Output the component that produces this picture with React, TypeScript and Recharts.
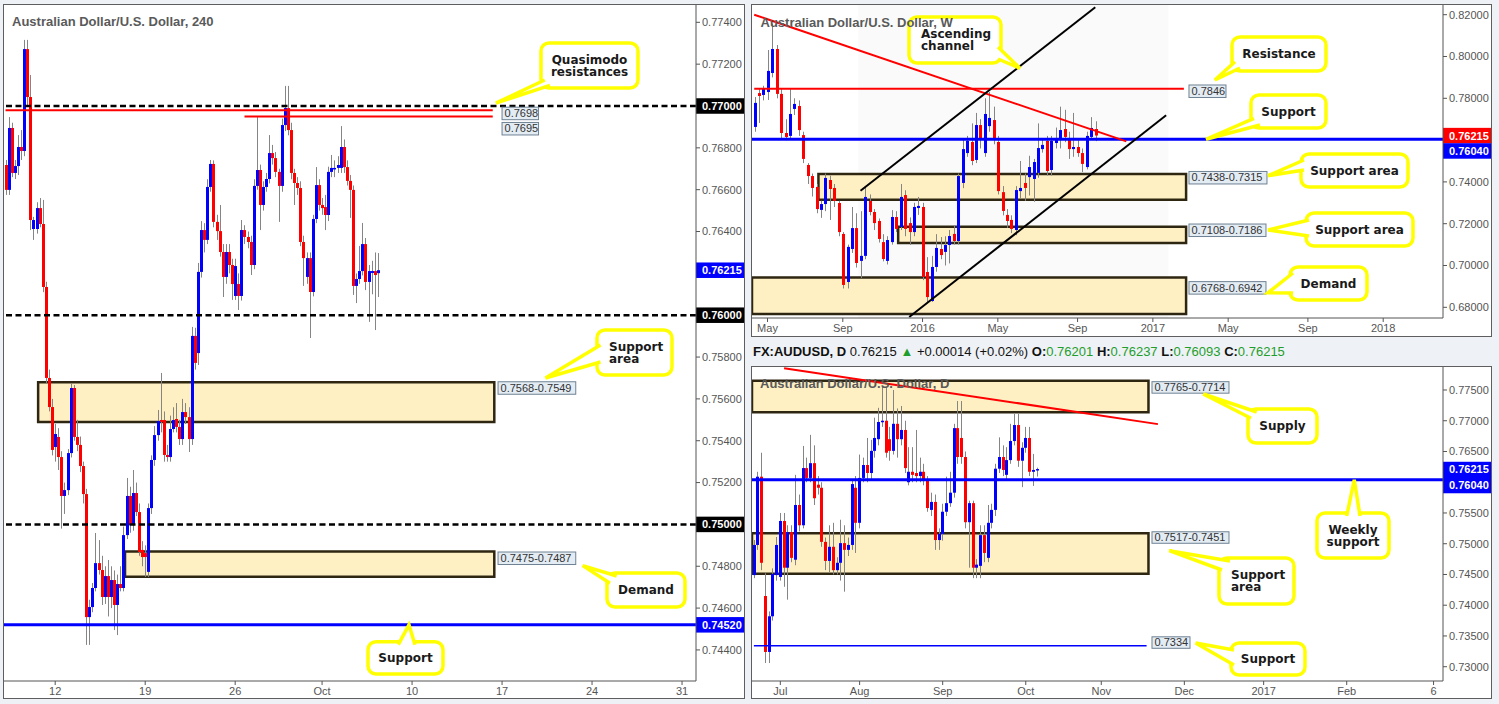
import React from 'react';
import {
  ComposedChart,
  Bar,
  XAxis,
  YAxis,
  ReferenceLine,
  ReferenceArea,
  ReferenceDot,
} from 'recharts';

type OHLC = [number, number, number, number];

const FONT = '"Liberation Sans", Arial, sans-serif';
const NOTE_FONT = '"DejaVu Sans", Verdana, sans-serif';
const BLUE = '#0000ff';
const RED = '#ff0000';
const AXIS = '#555';
const ZONE_FILL = '#fff0c4';
const ZONE_STROKE = '#2e2610';

// ---- 4H candles (open, high, low, close) ----
const H4_OHLC: OHLC[] = [
  [0.76718, 0.76742, 0.76575, 0.76599], [0.76599, 0.76947, 0.76575, 0.76895], [0.76895, 0.7692, 0.7666, 0.7668],
  [0.7668, 0.76742, 0.76651, 0.76713], [0.76713, 0.76861, 0.7667, 0.76804], [0.76804, 0.76885, 0.76742, 0.76785],
  [0.76785, 0.77316, 0.7676, 0.77272], [0.77272, 0.77316, 0.77, 0.77043], [0.77043, 0.77148, 0.76407, 0.76455],
  [0.76412, 0.7647, 0.7636, 0.76455], [0.76412, 0.7654, 0.7639, 0.76512], [0.76512, 0.7656, 0.7642, 0.76436],
  [0.76436, 0.76551, 0.7611, 0.76135], [0.76135, 0.7616, 0.75676, 0.757], [0.757, 0.7574, 0.7554, 0.75561],
  [0.75561, 0.756, 0.7533, 0.75356], [0.7537, 0.7548, 0.753, 0.75432], [0.75418, 0.7546, 0.7526, 0.75322],
  [0.75322, 0.7535, 0.7498, 0.75136], [0.75136, 0.752, 0.7505, 0.75164], [0.75164, 0.7536, 0.7514, 0.75341],
  [0.75341, 0.75676, 0.7532, 0.75652], [0.75652, 0.75666, 0.754, 0.75418], [0.75418, 0.755, 0.7535, 0.7538],
  [0.7538, 0.7542, 0.7525, 0.75279], [0.75279, 0.753, 0.751, 0.75145], [0.75145, 0.7517, 0.74424, 0.74557],
  [0.74557, 0.7464, 0.74424, 0.74605], [0.74605, 0.7472, 0.7458, 0.74696], [0.74696, 0.74959, 0.7468, 0.74815],
  [0.74815, 0.74925, 0.7476, 0.74782], [0.74782, 0.7485, 0.74615, 0.74653], [0.74653, 0.748, 0.7462, 0.74753],
  [0.74753, 0.7483, 0.7456, 0.74653], [0.74653, 0.748, 0.746, 0.74734], [0.74734, 0.7478, 0.74495, 0.74615],
  [0.74615, 0.7476, 0.74471, 0.74715], [0.74715, 0.748, 0.7468, 0.74696], [0.74696, 0.7499, 0.7468, 0.74949],
  [0.74949, 0.75222, 0.7493, 0.75136], [0.75136, 0.7518, 0.7496, 0.74997], [0.74997, 0.7526, 0.7497, 0.7515],
  [0.7515, 0.752, 0.7504, 0.75059], [0.75059, 0.751, 0.7485, 0.74868], [0.74878, 0.7492, 0.748, 0.74844],
  [0.74863, 0.749, 0.74749, 0.74844], [0.74773, 0.751, 0.74749, 0.75078], [0.75078, 0.7533, 0.7505, 0.75308],
  [0.75308, 0.7547, 0.7528, 0.75427], [0.75427, 0.75547, 0.754, 0.75494], [0.75499, 0.75724, 0.7544, 0.7549],
  [0.75499, 0.7554, 0.753, 0.75332], [0.75332, 0.7538, 0.753, 0.75322], [0.75322, 0.7552, 0.753, 0.75456],
  [0.75456, 0.7556, 0.7544, 0.75499], [0.75504, 0.7558, 0.7544, 0.75466], [0.75466, 0.755, 0.7538, 0.75408],
  [0.75408, 0.756, 0.7538, 0.75537], [0.75537, 0.7558, 0.7548, 0.75513], [0.75513, 0.7556, 0.75346, 0.75408],
  [0.75408, 0.75944, 0.7538, 0.75901], [0.75901, 0.7594, 0.7574, 0.75772], [0.75819, 0.7625, 0.75762, 0.76207],
  [0.76207, 0.7645, 0.7618, 0.76407], [0.76407, 0.7644, 0.763, 0.7636], [0.7636, 0.7665, 0.7634, 0.76613],
  [0.76613, 0.76742, 0.7659, 0.76723], [0.76723, 0.7674, 0.7642, 0.76446], [0.76446, 0.7648, 0.7636, 0.76402],
  [0.76402, 0.76527, 0.7628, 0.76302], [0.76302, 0.7634, 0.76087, 0.76183], [0.76183, 0.7634, 0.7615, 0.76302],
  [0.76302, 0.7634, 0.762, 0.7624], [0.7624, 0.7627, 0.76073, 0.76149], [0.76092, 0.7627, 0.76073, 0.76235],
  [0.76149, 0.762, 0.76025, 0.76092], [0.76092, 0.76455, 0.7607, 0.76407], [0.76407, 0.7643, 0.7634, 0.76374],
  [0.76374, 0.764, 0.7632, 0.7635], [0.7635, 0.7638, 0.76192, 0.7624], [0.7624, 0.7665, 0.7622, 0.76618],
  [0.76618, 0.76947, 0.766, 0.76694], [0.76694, 0.7672, 0.76407, 0.76527], [0.76527, 0.7664, 0.765, 0.76613],
  [0.76613, 0.7668, 0.7659, 0.76651], [0.76651, 0.76861, 0.7663, 0.76775], [0.76775, 0.76814, 0.7672, 0.76751],
  [0.76751, 0.7678, 0.7666, 0.76685], [0.76685, 0.767, 0.76446, 0.76618], [0.76618, 0.7694, 0.7659, 0.76909],
  [0.76909, 0.77096, 0.7688, 0.7699], [0.7699, 0.77096, 0.7686, 0.76885], [0.76885, 0.7692, 0.7665, 0.7668],
  [0.7668, 0.767, 0.76527, 0.76632], [0.76632, 0.7666, 0.76575, 0.76608], [0.76608, 0.7664, 0.7633, 0.7635],
  [0.7635, 0.7638, 0.7614, 0.76273], [0.76183, 0.763, 0.7615, 0.76273], [0.76273, 0.763, 0.75891, 0.76111],
  [0.76111, 0.7648, 0.7609, 0.7646], [0.7646, 0.76708, 0.7644, 0.76622], [0.76622, 0.7665, 0.765, 0.76527],
  [0.76527, 0.7656, 0.7648, 0.76512], [0.76517, 0.76575, 0.76407, 0.76479], [0.76479, 0.7671, 0.7645, 0.76685],
  [0.76685, 0.76766, 0.7666, 0.76704], [0.76699, 0.7674, 0.7666, 0.76704], [0.76704, 0.7676, 0.7668, 0.76718],
  [0.76704, 0.76904, 0.7668, 0.76804], [0.76804, 0.7684, 0.7668, 0.76708], [0.76708, 0.7674, 0.7662, 0.76642],
  [0.76642, 0.7667, 0.76465, 0.76599], [0.76599, 0.7662, 0.76097, 0.7614], [0.7614, 0.762, 0.76058, 0.76173],
  [0.76173, 0.76331, 0.7615, 0.76211], [0.76211, 0.76441, 0.7619, 0.7634], [0.7634, 0.76369, 0.7612, 0.76159],
  [0.76159, 0.7624, 0.75968, 0.76211], [0.76202, 0.7626, 0.761, 0.76211], [0.76211, 0.763, 0.75929, 0.76192],
  [0.76201, 0.76297, 0.76087, 0.76215],
];

// ---- weekly candles ----
const W1_OHLC: OHLC[] = [
  [0.7663, 0.7806, 0.764, 0.7778], [0.7825, 0.7849, 0.7682, 0.7811], [0.7816, 0.786, 0.779, 0.7849],
  [0.783, 0.8031, 0.7792, 0.7931], [0.7921, 0.8156, 0.79, 0.8036], [0.8036, 0.8055, 0.78, 0.7821],
  [0.7821, 0.7849, 0.761, 0.7634], [0.7634, 0.77, 0.76, 0.7615], [0.762, 0.7845, 0.7605, 0.7725],
  [0.7749, 0.78, 0.772, 0.7773], [0.7763, 0.779, 0.762, 0.7648], [0.7624, 0.764, 0.749, 0.751],
  [0.7481, 0.749, 0.739, 0.7428], [0.7428, 0.744, 0.733, 0.7371], [0.7376, 0.739, 0.725, 0.727],
  [0.7266, 0.731, 0.7228, 0.7294], [0.7294, 0.744, 0.726, 0.7419], [0.7409, 0.743, 0.7218, 0.7366],
  [0.7371, 0.739, 0.728, 0.7309], [0.7299, 0.731, 0.714, 0.716], [0.7151, 0.716, 0.689, 0.6907],
  [0.6921, 0.71, 0.689, 0.7089], [0.7079, 0.728, 0.706, 0.7179], [0.7179, 0.725, 0.699, 0.7012],
  [0.7022, 0.726, 0.694, 0.7046], [0.7046, 0.738, 0.703, 0.7328], [0.7309, 0.734, 0.724, 0.7256],
  [0.7256, 0.727, 0.717, 0.7203], [0.7213, 0.7225, 0.711, 0.7127], [0.7112, 0.715, 0.702, 0.7031],
  [0.7022, 0.714, 0.7005, 0.7122], [0.7112, 0.7265, 0.71, 0.7232], [0.7232, 0.726, 0.716, 0.7175],
  [0.7184, 0.739, 0.717, 0.7328], [0.7337, 0.736, 0.714, 0.7175], [0.7203, 0.723, 0.7098, 0.716],
  [0.716, 0.73, 0.714, 0.728], [0.7275, 0.7328, 0.7242, 0.7285], [0.728, 0.73, 0.693, 0.6945],
  [0.6969, 0.704, 0.6825, 0.6849], [0.683, 0.7046, 0.6826, 0.6993], [0.6993, 0.715, 0.697, 0.7084],
  [0.7079, 0.7136, 0.703, 0.705], [0.7065, 0.714, 0.7, 0.7098], [0.7098, 0.717, 0.701, 0.7141],
  [0.7151, 0.719, 0.71, 0.7117], [0.7117, 0.744, 0.71, 0.7428], [0.7395, 0.761, 0.737, 0.7557],
  [0.7538, 0.762, 0.752, 0.7596], [0.7591, 0.768, 0.748, 0.75], [0.7505, 0.773, 0.749, 0.7672],
  [0.7672, 0.77, 0.756, 0.7605], [0.7538, 0.78, 0.752, 0.7725], [0.7667, 0.783, 0.764, 0.7706],
  [0.7696, 0.776, 0.758, 0.76], [0.7591, 0.762, 0.734, 0.7356], [0.7351, 0.738, 0.724, 0.7261],
  [0.7242, 0.727, 0.718, 0.7213], [0.7218, 0.724, 0.7155, 0.7175], [0.717, 0.738, 0.7145, 0.7361],
  [0.7356, 0.75, 0.732, 0.7371], [0.7395, 0.744, 0.7309, 0.7371], [0.7423, 0.7525, 0.7335, 0.7471],
  [0.7414, 0.751, 0.7305, 0.7495], [0.7443, 0.768, 0.742, 0.7562], [0.7557, 0.761, 0.754, 0.7577],
  [0.7596, 0.762, 0.743, 0.7452], [0.7457, 0.762, 0.743, 0.7596], [0.7586, 0.766, 0.756, 0.761],
  [0.761, 0.776, 0.756, 0.7648], [0.7653, 0.7745, 0.759, 0.7615], [0.761, 0.764, 0.751, 0.7557],
  [0.7557, 0.773, 0.752, 0.7567], [0.7567, 0.76, 0.752, 0.7538], [0.7538, 0.756, 0.7447, 0.7486],
  [0.7471, 0.764, 0.746, 0.762], [0.7615, 0.771, 0.76, 0.7658], [0.7653, 0.769, 0.7595, 0.7622],
];

// ---- daily candles ----
const D1_OHLC: OHLC[] = [
  [0.7449, 0.7506, 0.7444, 0.7498], [0.7498, 0.7617, 0.749, 0.7609], [0.7609, 0.7648, 0.7457, 0.7469],
  [0.7415, 0.7452, 0.7306, 0.7324], [0.7324, 0.739, 0.7306, 0.7382], [0.7382, 0.746, 0.7375, 0.7451],
  [0.7449, 0.7511, 0.744, 0.7498], [0.7446, 0.755, 0.744, 0.7537], [0.7537, 0.755, 0.743, 0.7461],
  [0.7461, 0.753, 0.7409, 0.7519], [0.7519, 0.753, 0.747, 0.7477], [0.7474, 0.7612, 0.7465, 0.7563],
  [0.7563, 0.758, 0.752, 0.753], [0.753, 0.7659, 0.7525, 0.7623], [0.7623, 0.764, 0.76, 0.7607],
  [0.7607, 0.7677, 0.76, 0.7631], [0.7631, 0.766, 0.7563, 0.7574], [0.7596, 0.761, 0.758, 0.7591],
  [0.7591, 0.76, 0.7495, 0.7503], [0.7503, 0.751, 0.7457, 0.7472], [0.7472, 0.753, 0.7454, 0.7495],
  [0.7495, 0.7534, 0.745, 0.7457], [0.7457, 0.7478, 0.745, 0.7469], [0.7469, 0.7539, 0.744, 0.7501],
  [0.7501, 0.753, 0.7422, 0.749], [0.749, 0.751, 0.748, 0.7498], [0.7498, 0.7604, 0.749, 0.7597],
  [0.7591, 0.761, 0.7485, 0.7534], [0.7534, 0.7645, 0.7525, 0.7607], [0.7607, 0.764, 0.76, 0.7628],
  [0.7628, 0.7672, 0.76, 0.7615], [0.7615, 0.7669, 0.7605, 0.7651], [0.7651, 0.7705, 0.764, 0.7672],
  [0.767, 0.7721, 0.766, 0.7698], [0.7698, 0.7755, 0.769, 0.77], [0.77, 0.7755, 0.764, 0.7648],
  [0.767, 0.769, 0.7635, 0.7651], [0.7651, 0.775, 0.7645, 0.7695], [0.7695, 0.772, 0.764, 0.767],
  [0.767, 0.7724, 0.766, 0.7685], [0.7685, 0.77, 0.7615, 0.7623], [0.76, 0.7657, 0.7595, 0.7617],
  [0.7617, 0.7657, 0.76, 0.7612], [0.7615, 0.7685, 0.76, 0.761], [0.761, 0.764, 0.76, 0.7617],
  [0.7617, 0.763, 0.7595, 0.7604], [0.7604, 0.761, 0.7552, 0.7558], [0.7555, 0.7583, 0.7545, 0.7568],
  [0.7568, 0.758, 0.749, 0.7506], [0.7506, 0.7525, 0.749, 0.7516], [0.7516, 0.7565, 0.7505, 0.7552],
  [0.7552, 0.7609, 0.7545, 0.7566], [0.7566, 0.7617, 0.756, 0.7583], [0.7583, 0.7695, 0.7575, 0.7688],
  [0.7688, 0.7732, 0.763, 0.7641], [0.7672, 0.7732, 0.763, 0.7641], [0.7641, 0.765, 0.7525, 0.7535],
  [0.7535, 0.757, 0.7461, 0.7566], [0.7566, 0.757, 0.7444, 0.7461], [0.7461, 0.7475, 0.7444, 0.7466],
  [0.7464, 0.753, 0.7444, 0.7514], [0.7514, 0.753, 0.747, 0.7485], [0.7477, 0.7563, 0.747, 0.7534],
  [0.7534, 0.7565, 0.7525, 0.7555], [0.7555, 0.763, 0.7545, 0.7622], [0.7622, 0.7673, 0.7615, 0.7641],
  [0.7641, 0.766, 0.761, 0.762], [0.7612, 0.7657, 0.7605, 0.7636], [0.7636, 0.7695, 0.763, 0.7667],
  [0.7667, 0.7711, 0.766, 0.7693], [0.7693, 0.7711, 0.7625, 0.7635], [0.7635, 0.7665, 0.7592, 0.7656],
  [0.7656, 0.769, 0.7648, 0.7672], [0.7672, 0.769, 0.761, 0.7617], [0.7617, 0.7646, 0.7594, 0.762],
  [0.76201, 0.76237, 0.76093, 0.76215],
];

// ---- axes ----
const H4_SLOTS = 223;
const H4_DOMAIN: [number, number] = [0.742515, 0.774828];
const H4_YTICKS = [0.744, 0.746, 0.748, 0.752, 0.754, 0.756, 0.758, 0.764, 0.766, 0.768, 0.772, 0.774];
const H4_XTICKS = [16, 45, 74, 102, 131, 160, 189, 218];
const H4_XLABELS = ['12', '19', '26', 'Oct', '10', '17', '24', '31'];

const W1_SLOTS = 156;
const W1_DOMAIN: [number, number] = [0.67488, 0.824641];
const W1_YTICKS = [0.68, 0.7, 0.72, 0.74, 0.78, 0.8, 0.82];
const W1_XTICKS = [3, 20, 38, 55, 73, 90, 107, 125, 142];
const W1_XLABELS = ['May', 'Sep', '2016', 'May', 'Sep', '2017', 'May', 'Sep', '2018'];

const D1_SLOTS = 183;
const D1_DOMAIN: [number, number] = [0.727676, 0.77874];
const D1_YTICKS = [0.73, 0.735, 0.74, 0.745, 0.75, 0.755, 0.765, 0.77, 0.775];
const D1_XTICKS = [7, 28, 50, 72, 92, 114, 135, 157, 180];
const D1_XLABELS = ['Jul', 'Aug', 'Sep', 'Oct', 'Nov', 'Dec', '2017', 'Feb', '6'];

// ---- levels ----
const LAST_PRICE = 0.76215;
const H4_ROUND = [0.77, 0.76, 0.75];
const H4_QM = [0.7698, 0.7695];
const H4_SUPPORT = 0.7452;
const H4_ZONES: [number, number][] = [[0.7568, 0.7549], [0.7487, 0.7475]];
const W1_RESIST = 0.7846;
const W1_SUPPORT = 0.7604;
const W1_ZONES: [number, number][] = [[0.7438, 0.7315], [0.7186, 0.7108], [0.6942, 0.6768]];
const W1_TREND: [number, number][] = [[0, 0.82], [84, 0.7594]];
const W1_CHANNEL_UP: [number, number][] = [[24, 0.73574], [77, 0.82354]];
const W1_CHANNEL_LO: [number, number][] = [[35, 0.67536], [93, 0.77187]];
const D1_ZONES: [number, number][] = [[0.7765, 0.7714], [0.7517, 0.7451]];
const D1_SUPPORT = 0.7334;
const D1_TREND: [number, number][] = [[8, 0.77855], [107, 0.76945]];

const toSlots = (rows: OHLC[], n: number) =>
  Array.from({ length: n }, (_, i) => {
    const r = rows[i];
    return r ? { i, o: r[0], h: r[1], l: r[2], c: r[3], range: [r[2], r[1]] } : { i, range: null };
  });

const H4_DATA = toSlots(H4_OHLC, H4_SLOTS);
const W1_DATA = toSlots(W1_OHLC, W1_SLOTS);
const D1_DATA = toSlots(D1_OHLC, D1_SLOTS);

const seg = (pts: [number, number][]) => pts.map(([x, y]) => ({ x, y }));
const zoneLabel = (z: [number, number]) => `${z[0]}-${z[1]}`;

function Candle(props: any) {
  const { x, y, width, height, payload } = props;
  if (!payload || payload.o == null || !isFinite(y) || !isFinite(height)) return null;
  const { o, h, l, c } = payload;
  const top = Math.min(y, y + height);
  const hh = Math.abs(height);
  const k = h > l ? hh / (h - l) : 0;
  const mid = Math.round(x + width / 2);
  const yo = top + (h - o) * k;
  const yc = top + (h - c) * k;
  const bTop = Math.min(yo, yc);
  const bh = Math.max(Math.abs(yo - yc), 1.5);
  return (
    <g>
      <line x1={mid + 0.5} x2={mid + 0.5} y1={top} y2={top + hh} stroke="#858585" strokeWidth={1} />
      <rect x={mid - 1} y={bTop} width={3} height={bh} fill={c >= o ? BLUE : RED} />
    </g>
  );
}

// price tag on the right axis
const badge = (text: string, fill: string, shift = 0) => (p: any) => {
  const vb = p?.viewBox ?? {};
  const x = (vb.x ?? 0) + (vb.width ?? 0);
  const y = (vb.y ?? 0) + shift;
  return (
    <g>
      <rect x={x} y={y - 7.75} width={49} height={15.5} fill={fill} />
      <text x={x + 6} y={y + 4} fill="#fff" fontSize={11} fontWeight="bold">
        {text}
      </text>
    </g>
  );
};

const doubleBadge = (text: string) => (p: any) => {
  const vb = p?.viewBox ?? {};
  const x = (vb.x ?? 0) + (vb.width ?? 0);
  const y = vb.y ?? 0;
  return (
    <g>
      <rect x={x} y={y - 18} width={49} height={31.5} fill={BLUE} />
      <text x={x + 6} y={y + 9.5} fill="#fff" fontSize={11} fontWeight="bold">
        {text}
      </text>
    </g>
  );
};

const badgeText = (text: string) => (p: any) => {
  const vb = p?.viewBox ?? {};
  const x = (vb.x ?? 0) + (vb.width ?? 0);
  const y = vb.y ?? 0;
  return (
    <text x={x + 6} y={y + 4} fill="#fff" fontSize={11} fontWeight="bold">
      {text}
    </text>
  );
};

function Tag({ cx = 0, cy = 0, dx, dy, w, h = 12.5, text }: any) {
  const x = cx + dx;
  const y = cy + dy;
  return (
    <g>
      <rect x={x} y={y} width={w} height={h} fill="#e4ecf3" stroke="#6e8293" strokeWidth={1} />
      <text x={x + 2.5} y={y + h - 2.5} fill="#333" fontSize={11}>
        {text}
      </text>
    </g>
  );
}

function Bubble({ cx = 0, cy = 0, box, p1, p2, lines, left = false }: any) {
  const [x, y, w, h] = box;
  const yellow = '#ffff00';
  const step = 12;
  const mid = y + h / 2;
  const first = mid - ((lines.length - 1) * step) / 2;
  return (
    <g>
      <rect x={x} y={y} width={w} height={h} rx={8} ry={8} fill="#fff" stroke={yellow} strokeWidth={3.5} />
      <polygon points={`${p1[0]},${p1[1]} ${cx},${cy} ${p2[0]},${p2[1]}`} fill="#fff" />
      <polyline
        points={`${p1[0]},${p1[1]} ${cx},${cy} ${p2[0]},${p2[1]}`}
        fill="none"
        stroke={yellow}
        strokeWidth={3.5}
      />
      {lines.map((t: string, k: number) => (
        <text
          key={k}
          x={left ? x + 12 : x + w / 2}
          y={first + k * step + 4.3}
          textAnchor={left ? 'start' : 'middle'}
          fontSize={12}
          fontWeight="bold"
          fontFamily={NOTE_FONT}
          fill="#1a1a1a"
        >
          {t}
        </text>
      ))}
    </g>
  );
}

const xAxisProps = (ticks: number[], labels: string[], height: number) => ({
  dataKey: 'i',
  type: 'category' as const,
  ticks,
  interval: 0 as const,
  tickFormatter: (v: number) => labels[ticks.indexOf(v)] ?? '',
  height,
  axisLine: { stroke: AXIS },
  tickLine: { stroke: AXIS },
  tickSize: 4,
  tick: { fill: AXIS, fontSize: 11 },
});

const yAxisProps = (domain: [number, number], ticks: number[]) => ({
  orientation: 'right' as const,
  type: 'number' as const,
  domain,
  allowDataOverflow: true,
  ticks,
  interval: 0 as const,
  tickFormatter: (v: number) => v.toFixed(5),
  width: 48,
  axisLine: { stroke: AXIS },
  tickLine: { stroke: AXIS },
  tickSize: 4,
  tick: { fill: AXIS, fontSize: 11 },
});

const panel = (left: number, top: number, width: number, height: number): React.CSSProperties => ({
  position: 'absolute',
  left,
  top,
  width,
  height,
  border: '1px solid #5e5e5e',
  boxSizing: 'border-box',
  background: '#fff',
});

const titleStyle: React.CSSProperties = {
  position: 'absolute',
  left: 8,
  top: 9,
  fontSize: 13,
  fontWeight: 'bold',
  color: '#5a5a5a',
  lineHeight: '15px',
  pointerEvents: 'none',
  whiteSpace: 'nowrap',
};

function FourHourChart() {
  return (
    <ComposedChart width={740} height={693} data={H4_DATA} margin={{ top: 0, right: 0, bottom: 0, left: 0 }}>
      <XAxis {...xAxisProps(H4_XTICKS, H4_XLABELS, 17)} />
      <YAxis {...yAxisProps(H4_DOMAIN, H4_YTICKS)} />
      <ReferenceArea x1={11} x2={157} y1={H4_ZONES[0][0]} y2={H4_ZONES[0][1]} fill={ZONE_FILL} fillOpacity={1} stroke={ZONE_STROKE} strokeWidth={2.5} />
      <ReferenceArea x1={39} x2={157} y1={H4_ZONES[1][0]} y2={H4_ZONES[1][1]} fill={ZONE_FILL} fillOpacity={1} stroke={ZONE_STROKE} strokeWidth={2.5} />
      <Bar dataKey="range" barSize={3} shape={Candle} isAnimationActive={false} />
      <ReferenceLine segment={seg([[0, H4_QM[0]], [157, H4_QM[0]]])} stroke={RED} strokeWidth={2} />
      <ReferenceLine segment={seg([[77, H4_QM[1]], [157, H4_QM[1]]])} stroke={RED} strokeWidth={2} />
      {H4_ROUND.map((v) => (
        <ReferenceLine key={v} y={v} stroke="#000" strokeWidth={2.5} strokeDasharray="6 3.5" label={badge(v.toFixed(5), '#000')} />
      ))}
      <ReferenceLine y={H4_SUPPORT} stroke={BLUE} strokeWidth={3} label={badge(H4_SUPPORT.toFixed(5), BLUE)} />
      <ReferenceLine y={LAST_PRICE} stroke="none" label={badge(LAST_PRICE.toFixed(5), BLUE)} />
      <ReferenceDot x={157} y={H4_QM[0]} r={0} shape={(p: any) => <Tag {...p} dx={9.3} dy={-3} w={36.5} text={String(H4_QM[0])} />} />
      <ReferenceDot x={157} y={H4_QM[1]} r={0} shape={(p: any) => <Tag {...p} dx={9.3} dy={6} w={36.5} text={String(H4_QM[1])} />} />
      <ReferenceDot x={157} y={H4_ZONES[0][0]} r={0} shape={(p: any) => <Tag {...p} dx={5.3} dy={-0.4} w={77.7} text={zoneLabel(H4_ZONES[0])} />} />
      <ReferenceDot x={157} y={H4_ZONES[1][0]} r={0} shape={(p: any) => <Tag {...p} dx={5.3} dy={0.4} w={77.7} text={`${H4_ZONES[1][1]}-${H4_ZONES[1][0]}`} />} />
      <ReferenceDot x={158} y={0.77014} r={0} shape={(p: any) => <Bubble {...p} box={[537, 38, 97, 45]} p1={[540.7, 75]} p2={[546, 80.3]} lines={['Quasimodo', 'resistances']} />} />
      <ReferenceDot x={174} y={0.757} r={0} shape={(p: any) => <Bubble {...p} box={[593, 325, 75, 45]} p1={[596.5, 340]} p2={[596.5, 357]} lines={['Support', 'area']} left />} />
      <ReferenceDot x={186} y={0.74803} r={0} shape={(p: any) => <Bubble {...p} box={[603, 568, 78, 34]} p1={[612.7, 571]} p2={[606, 578.3]} lines={['Demand']} />} />
      <ReferenceDot x={130} y={H4_SUPPORT} r={0} shape={(p: any) => <Bubble {...p} box={[364, 636.7, 75, 32.3]} p1={[394.3, 639.7]} p2={[411, 639.7]} lines={['Support']} />} />
    </ComposedChart>
  );
}

function WeeklyChart() {
  return (
    <ComposedChart width={739} height={331} data={W1_DATA} margin={{ top: 0, right: 0, bottom: 0, left: 0 }}>
      <XAxis {...xAxisProps(W1_XTICKS, W1_XLABELS, 18)} />
      <YAxis {...yAxisProps(W1_DOMAIN, W1_YTICKS)} />
      <ReferenceArea x1={24} x2={93} fill="#f9faf9" fillOpacity={1} stroke="none" />
      <ReferenceArea x1={15} x2={97} y1={W1_ZONES[0][0]} y2={W1_ZONES[0][1]} fill={ZONE_FILL} fillOpacity={1} stroke={ZONE_STROKE} strokeWidth={2.5} />
      <ReferenceArea x1={33} x2={97} y1={W1_ZONES[1][0]} y2={W1_ZONES[1][1]} fill={ZONE_FILL} fillOpacity={1} stroke={ZONE_STROKE} strokeWidth={2.5} />
      <ReferenceArea x1={0} x2={97} y1={W1_ZONES[2][0]} y2={W1_ZONES[2][1]} fill={ZONE_FILL} fillOpacity={1} stroke={ZONE_STROKE} strokeWidth={2.5} />
      <Bar dataKey="range" barSize={3} shape={Candle} isAnimationActive={false} />
      <ReferenceLine segment={seg([[0, W1_RESIST], [97, W1_RESIST]])} stroke={RED} strokeWidth={2} />
      <ReferenceLine y={LAST_PRICE} stroke="none" label={badge(LAST_PRICE.toFixed(5), RED)} />
      <ReferenceLine y={W1_SUPPORT} stroke={BLUE} strokeWidth={3} label={badge(W1_SUPPORT.toFixed(5), BLUE, 11.7)} />
      <ReferenceLine segment={seg(W1_TREND)} stroke={RED} strokeWidth={2} />
      <ReferenceLine segment={seg(W1_CHANNEL_UP)} stroke="#000" strokeWidth={2} />
      <ReferenceLine segment={seg(W1_CHANNEL_LO)} stroke="#000" strokeWidth={2} />
      <ReferenceDot x={97} y={W1_RESIST} r={0} shape={(p: any) => <Tag {...p} dx={5.1} dy={-3.7} w={37} text={String(W1_RESIST)} />} />
      <ReferenceDot x={97} y={W1_ZONES[0][0]} r={0} shape={(p: any) => <Tag {...p} dx={5.1} dy={-2.5} w={78} text={zoneLabel(W1_ZONES[0])} />} />
      <ReferenceDot x={97} y={W1_ZONES[1][0]} r={0} shape={(p: any) => <Tag {...p} dx={5.1} dy={-2.6} w={77} text={`${W1_ZONES[1][1]}-${W1_ZONES[1][0]}`} />} />
      <ReferenceDot x={97} y={W1_ZONES[2][0]} r={0} shape={(p: any) => <Tag {...p} dx={5.1} dy={4} w={77} text={`${W1_ZONES[2][1]}-${W1_ZONES[2][0]}`} />} />
      <ReferenceDot x={60} y={0.79435} r={0} shape={(p: any) => <Bubble {...p} box={[157, 12, 92, 46]} p1={[246, 42]} p2={[246, 54]} lines={['Ascending', 'channel']} left />} />
      <ReferenceDot x={104} y={0.78876} r={0} shape={(p: any) => <Bubble {...p} box={[480, 32, 94, 34]} p1={[483, 56.7]} p2={[488, 63]} lines={['Resistance']} />} />
      <ReferenceDot x={102} y={W1_SUPPORT} r={0} shape={(p: any) => <Bubble {...p} box={[499, 90, 75, 33]} p1={[502, 113.3]} p2={[508, 120]} lines={['Support']} />} />
      <ReferenceDot x={116} y={0.74297} r={0} shape={(p: any) => <Bubble {...p} box={[549, 149, 107, 33]} p1={[552, 155]} p2={[552, 165]} lines={['Support area']} />} />
      <ReferenceDot x={116} y={0.71699} r={0} shape={(p: any) => <Bubble {...p} box={[554, 208, 107, 33]} p1={[557, 215]} p2={[557, 231]} lines={['Support area']} />} />
      <ReferenceDot x={116} y={0.68697} r={0} shape={(p: any) => <Bubble {...p} box={[538, 262, 77, 33]} p1={[541, 268]} p2={[541, 288]} lines={['Demand']} />} />
    </ComposedChart>
  );
}

function DailyChart() {
  return (
    <ComposedChart width={739} height={331} data={D1_DATA} margin={{ top: 0, right: 0, bottom: 0, left: 0 }}>
      <XAxis {...xAxisProps(D1_XTICKS, D1_XLABELS, 17)} />
      <YAxis {...yAxisProps(D1_DOMAIN, D1_YTICKS)} />
      <ReferenceArea x1={0} x2={104} y1={D1_ZONES[0][0]} y2={D1_ZONES[0][1]} fill={ZONE_FILL} fillOpacity={1} stroke={ZONE_STROKE} strokeWidth={2.5} />
      <ReferenceArea x1={0} x2={104} y1={D1_ZONES[1][0]} y2={D1_ZONES[1][1]} fill={ZONE_FILL} fillOpacity={1} stroke={ZONE_STROKE} strokeWidth={2.5} />
      <Bar dataKey="range" barSize={3} shape={Candle} isAnimationActive={false} />
      <ReferenceLine y={W1_SUPPORT} stroke={BLUE} strokeWidth={3} label={doubleBadge(W1_SUPPORT.toFixed(5))} />
      <ReferenceLine y={LAST_PRICE} stroke="none" label={badgeText(LAST_PRICE.toFixed(5))} />
      <ReferenceLine segment={seg([[0, D1_SUPPORT], [104, D1_SUPPORT]])} stroke={BLUE} strokeWidth={1.5} />
      <ReferenceLine segment={seg(D1_TREND)} stroke={RED} strokeWidth={2} />
      <ReferenceDot x={104} y={D1_ZONES[0][0]} r={0} shape={(p: any) => <Tag {...p} dx={5.4} dy={0.9} w={77} h={11.5} text={zoneLabel(D1_ZONES[0])} />} />
      <ReferenceDot x={104} y={D1_ZONES[1][0]} r={0} shape={(p: any) => <Tag {...p} dx={5.4} dy={-1.5} w={77} h={11.5} text={zoneLabel(D1_ZONES[1])} />} />
      <ReferenceDot x={104} y={D1_SUPPORT} r={0} shape={(p: any) => <Tag {...p} dx={5.4} dy={-9} w={38} h={11.5} text={String(D1_SUPPORT)} />} />
      <ReferenceDot x={119} y={0.77435} r={0} shape={(p: any) => <Bubble {...p} box={[496, 42, 69, 34]} p1={[504.7, 45]} p2={[499, 51.3]} lines={['Supply']} />} />
      <ReferenceDot x={159} y={W1_SUPPORT} r={0} shape={(p: any) => <Bubble {...p} box={[565, 146, 72, 45]} p1={[594.7, 149]} p2={[608, 149]} lines={['Weekly', 'support']} />} />
      <ReferenceDot x={110} y={0.74887} r={0} shape={(p: any) => <Bubble {...p} box={[467, 191, 75, 46]} p1={[478, 194]} p2={[470, 203]} lines={['Support', 'area']} left />} />
      <ReferenceDot x={117} y={0.73386} r={0} shape={(p: any) => <Bubble {...p} box={[479, 276, 74, 32]} p1={[482, 283]} p2={[482, 298]} lines={['Support']} />} />
    </ComposedChart>
  );
}

const GREEN = '#1f9e2c';

export default function App() {
  return (
    <div
      style={{
        position: 'relative',
        width: 1499,
        height: 704,
        background: '#eef1f5',
        overflow: 'hidden',
        fontFamily: FONT,
      }}
    >
      <style>{'body{margin:0}'}</style>

      <div style={panel(3, 4, 742, 695)}>
        <FourHourChart />
        <div style={titleStyle}>Australian Dollar/U.S. Dollar, 240</div>
      </div>

      <div style={panel(751, 4, 741, 333)}>
        <WeeklyChart />
        <div style={{ ...titleStyle, left: 8.5, top: 9.5 }}>Australian Dollar/U.S. Dollar, W</div>
      </div>

      <div
        style={{
          position: 'absolute',
          left: 753,
          top: 344,
          fontSize: 13,
          lineHeight: '16px',
          color: '#111',
          whiteSpace: 'nowrap',
        }}
      >
        <b>FX:AUDUSD, D</b> 0.76215 <span style={{ color: GREEN }}>▲</span> +0.00014 (+0.02%){' '}
        <b>O:</b>
        <span style={{ color: GREEN }}>0.76201</span> <b>H:</b>
        <span style={{ color: GREEN }}>0.76237</span> <b>L:</b>
        <span style={{ color: GREEN }}>0.76093</span> <b>C:</b>
        <span style={{ color: GREEN }}>0.76215</span>
      </div>

      <div style={panel(751, 366, 741, 333)}>
        <DailyChart />
        <div style={{ ...titleStyle, top: 9 }}>Australian Dollar/U.S. Dollar, D</div>
      </div>
    </div>
  );
}
